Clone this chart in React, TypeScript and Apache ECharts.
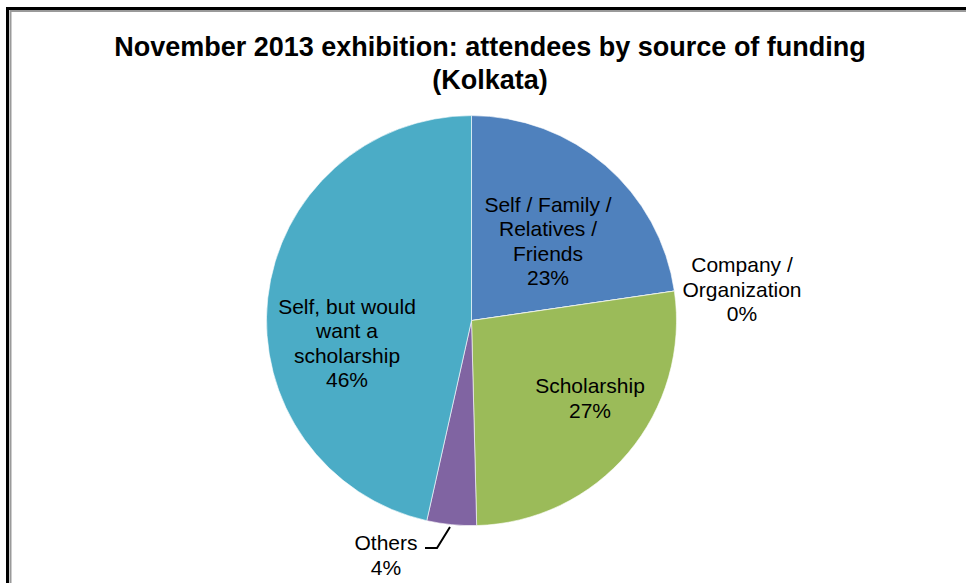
import React, { useEffect, useRef } from "react";
import * as echarts from "echarts";

const categories = [
  "Self / Family /\nRelatives /\nFriends",
  "Company /\nOrganization",
  "Scholarship",
  "Others",
  "Self, but would\nwant a\nscholarship",
];
const values = [22.7, 0, 26.9, 3.9, 46.5];
const colors = ["#4F81BD", "#C0504D", "#9BBB59", "#8064A2", "#4BACC6"];
const titleText = "November 2013 exhibition: attendees by source of funding\n(Kolkata)";

// label centres (layout styling)
const labelPos: [number, number][] = [
  [548, 241],
  [742, 289],
  [590, 398],
  [386, 555],
  [347, 343],
];

export default function App() {
  const ref = useRef<HTMLDivElement>(null);
  useEffect(() => {
    document.body.style.margin = "0";
    const chart = echarts.init(ref.current!, null, { renderer: "svg" });
    chart.setOption({
      animation: false,
      backgroundColor: "#ffffff",
      title: {
        text: titleText,
        left: 490,
        top: 30.5,
        padding: 0,
        textAlign: "center",
        textStyle: {
          fontFamily: "Liberation Sans",
          fontSize: 27,
          fontWeight: "bold",
          color: "#000",
          lineHeight: 33,
        },
      },
      graphic: [
        {
          type: "rect",
          shape: { x: 7.5, y: 8.5, width: 1100, height: 800 },
          style: { fill: "none", stroke: "#000", lineWidth: 3 },
          silent: true,
        },
        {
          type: "rect",
          shape: { x: 10.5, y: 11, width: 1100, height: 800 },
          style: { fill: "none", stroke: "#9a9a9a", lineWidth: 2 },
          silent: true,
        },
      ],
      series: [
        {
          type: "pie",
          center: [471.5, 320.6],
          radius: 205,
          startAngle: 90,
          clockwise: true,
          percentPrecision: 0,
          avoidLabelOverlap: false,
          minShowLabelAngle: 0,
          itemStyle: { borderColor: "#ffffff", borderWidth: 0.6 },
          label: {
            show: true,
            position: "inside",
            formatter: "{b}\n{d}%",
            fontFamily: "Liberation Sans",
            fontSize: 21,
            lineHeight: 24.5,
            color: "#000",
            align: "center",
          },
          labelLine: { show: false },
          labelLayout: (params: any) => {
            const p = labelPos[params.dataIndex];
            const out: any = {
              x: p[0],
              y: p[1],
              align: "center",
              verticalAlign: "middle",
            };
            if (params.dataIndex === 3) {
              out.labelLinePoints = [
                [450, 527],
                [437, 548],
                [425, 548],
              ];
            }
            return out;
          },
          data: categories.map((name, i) => ({
            name,
            value: values[i],
            itemStyle: { color: colors[i] },
            label:
              i === 1 || i === 3
                ? { position: "outside" }
                : undefined,
            labelLine:
              i === 3
                ? { show: true, lineStyle: { color: "#000", width: 2 }, length: 10, length2: 10 }
                : undefined,
          })),
        },
      ],
    });
    return () => chart.dispose();
  }, []);
  return <div ref={ref} style={{ width: 966, height: 583 }} />;
}
